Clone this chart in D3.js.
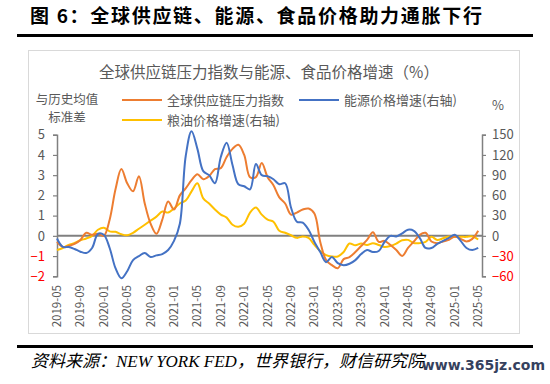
<!DOCTYPE html>
<html><head><meta charset="utf-8">
<script src="https://cdn.jsdelivr.net/npm/d3@7/dist/d3.min.js"></script>
<style>body{margin:0;background:#fff}svg{display:block}</style>
</head><body>
<svg id="c" width="550" height="384"></svg>
<script>
// ---------- data ----------
const startMonth = "2019-05";
const nMonths = 73; // 2019-05 .. 2025-05
const tickLabels = ["2019-05","2019-09","2020-01","2020-05","2020-09","2021-01","2021-05","2021-09","2022-01","2022-05","2022-09","2023-01","2023-05","2023-09","2024-01","2024-05","2024-09","2025-01","2025-05"];
const leftTicks = [5,4,3,2,1,0,-1,-2];
const rightTicks = [150,120,90,60,30,0,-30,-60];
// 全球供应链压力指数 (left axis, std dev)
const gscpi = [-0.3,-0.55,-0.5,-0.4,-0.2,0.15,0.05,0.1,0.0,0.8,2.3,3.3,2.6,2.2,2.95,1.6,0.6,0.1,
  0.8,1.7,1.3,2.0,2.35,2.75,3.05,2.8,2.95,3.3,3.35,3.9,4.3,4.5,4.0,2.9,2.9,3.6,2.9,2.5,1.9,1.6,
  1.05,1.15,1.3,1.35,1.1,-0.3,-1.2,-1.45,-1.6,-1.15,-1.05,-0.8,-0.5,-0.2,0.18,-0.3,-0.25,-0.45,
  -0.7,-1.0,-0.6,-0.28,0.05,0.15,-0.28,-0.36,-0.28,-0.2,-0.03,-0.15,-0.28,-0.15,0.25];
// 能源价格增速 (right axis, %)
const energy = [-4,-16.5,-16.5,-19.5,-23.5,-25.5,-18,3,1.5,-18,-48,-63,-52.5,-36,-30,-25.5,-31.5,-29,
  -27,-21,-7.5,18,118,155,129,96,90,78,117,138,105,76.5,73.5,69,106.5,90,88.5,84,76.5,78,
  42,21,19.5,9,-9,-24,-39,-31.5,-40.5,-43.5,-41.4,-36,-27,-21,-24,-22.5,-9,0,-1,3.6,
  9,7.5,-3,-18,-18,-12,-7.5,-3,1.5,-7.5,-18,-21,-18];
// 粮油价格增速 (right axis, %)
const food = [-21,-18,-13.5,-10.5,-6.6,-3.9,0,9,12,6.6,6,2.4,0.9,4.5,10.5,16.5,22.5,28.5,
  36,34.5,40.5,48,52.5,66,78,55.5,48,39,31.5,27,16.5,13.5,18,34.5,42,31.5,24,21,7.5,4.5,
  0.9,-3,-0.9,-3,-13.5,-22.5,-28.5,-30.6,-30.6,-24,-11.4,-14.1,-11.4,-13.5,-10.8,-13.5,-16.5,-15,
  -11.4,-6.6,-6,-10.8,-10.8,-9,-1.5,-6,-3.6,-0.9,-1.8,-1.5,-1.5,-0.9,-5.4];
const seriesNames = ["全球供应链压力指数","能源价格增速(右轴)","粮油价格增速(右轴)"];
const seriesColors = ["#ED7D31","#4472C4","#FFC000"];

// ---------- build ----------
const months = d3.timeMonth.range(d3.timeParse("%Y-%m")(startMonth), d3.timeMonth.offset(d3.timeParse("%Y-%m")(startMonth), nMonths)).map(d3.timeFormat("%Y-%m"));

const svg = d3.select("#c");
svg.append("rect").attr("width",550).attr("height",384).attr("fill","#fff");

const L = 57, R = 482, step = 5.85;
const x = d3.scalePoint().domain(months).range([L, L + step*(nMonths-1)]);
const yL = d3.scaleLinear().domain([-2,5]).range([276.3,134.7]);
const yR = d3.scaleLinear().domain([-60,150]).range([276.3,134.7]);
const gray = "#595959";
const cjk = "'Noto Sans CJK SC','Noto Sans',sans-serif";

// title
svg.append("text").attr("x",30).attr("y",23).attr("font-family",cjk).attr("font-weight",700)
  .attr("font-size",19).attr("letter-spacing",1.7).attr("fill","#000").text("图 6：全球供应链、能源、食品价格助力通胀下行");
svg.append("rect").attr("x",17).attr("y",34).attr("width",516).attr("height",3).attr("fill","#000");
// chart frame
svg.append("rect").attr("x",28.5).attr("y",50.5).attr("width",491).attr("height",283).attr("fill","#fff").attr("stroke","#d9d9d9");
// bottom rule and source
svg.append("rect").attr("x",17).attr("y",345).attr("width",516).attr("height",3).attr("fill","#000");
svg.append("text").attr("x",31).attr("y",367).attr("font-family","'Liberation Serif','Noto Sans CJK SC',serif")
  .attr("font-style","italic").attr("font-size",17).attr("fill","#000").text("资料来源：NEW YORK FED，世界银行，财信研究院");
svg.append("text").attr("x",545).attr("y",370).attr("text-anchor","end").attr("font-family","'DejaVu Sans',sans-serif")
  .attr("font-weight",700).attr("font-size",14).attr("fill","#1f2d4d").attr("opacity",0.9).text("www.365jz.com");

// chart title
svg.append("text").attr("x",269).attr("y",78).attr("text-anchor","middle").attr("font-family",cjk)
  .attr("font-size",15.5).attr("fill",gray).text("全球供应链压力指数与能源、食品价格增速（%）");
// left axis title
svg.append("text").attr("x",67).attr("y",104).attr("text-anchor","middle").attr("font-family",cjk).attr("font-size",12.5).attr("fill",gray).text("与历史均值");
svg.append("text").attr("x",67).attr("y",122).attr("text-anchor","middle").attr("font-family",cjk).attr("font-size",12.5).attr("fill",gray).text("标准差");
svg.append("text").attr("x",498).attr("y",110).attr("text-anchor","middle").attr("font-family",cjk).attr("font-size",13).attr("fill",gray).text("%");

// legend
const legendPos = [[122,100],[299,100],[122,120]];
seriesNames.forEach((n,k)=>{
  const [lx,ly] = legendPos[k];
  svg.append("line").attr("x1",lx).attr("x2",lx+40).attr("y1",ly).attr("y2",ly).attr("stroke",seriesColors[k]).attr("stroke-width",2);
  svg.append("text").attr("x",lx+45).attr("y",ly+4.5).attr("font-family",cjk).attr("font-size",13).attr("fill",gray).text(n);
});

// axes
const axL = svg.append("g").attr("transform",`translate(${L},0)`).call(d3.axisLeft(yL).tickValues(leftTicks).tickSize(4).tickFormat(d3.format("d")));
const axR = svg.append("g").attr("transform",`translate(${R},0)`).call(d3.axisRight(yR).tickValues(rightTicks).tickSize(4).tickFormat(d3.format("d")));
[axL,axR].forEach(a=>{
  a.select(".domain").attr("stroke","#808080").attr("stroke-width",1.5);
  a.selectAll(".tick line").attr("stroke","#808080").attr("stroke-width",1.2);
  a.selectAll(".tick text").attr("font-family",cjk).attr("font-size",13).attr("fill",d=>d<0?"#FF0000":gray);
});
axL.selectAll(".tick text").attr("x",-12);
axR.selectAll(".tick text").attr("x",10);

// x labels
const axX = svg.append("g").attr("transform","translate(0,285)");
tickLabels.forEach(t=>{
  axX.append("text").attr("transform",`translate(${x(t)+4},0) rotate(-90)`).attr("text-anchor","end")
    .attr("font-family",cjk).attr("font-size",11.5).attr("fill",gray).text(t);
});

// zero line
svg.append("line").attr("x1",L).attr("x2",R).attr("y1",yL(0)).attr("y2",yL(0)).attr("stroke","#808080").attr("stroke-width",2);

// lines
const mk = (arr, ys) => d3.line().x((d,i)=>x(months[i])).y(d=>ys(d)).curve(d3.curveCatmullRom.alpha(0.5))(arr);
svg.append("path").attr("d",mk(food,yR)).attr("fill","none").attr("stroke",seriesColors[2]).attr("stroke-width",2);
svg.append("path").attr("d",mk(gscpi,yL)).attr("fill","none").attr("stroke",seriesColors[0]).attr("stroke-width",2);
svg.append("path").attr("d",mk(energy,yR)).attr("fill","none").attr("stroke",seriesColors[1]).attr("stroke-width",2);
</script>
</body></html>
